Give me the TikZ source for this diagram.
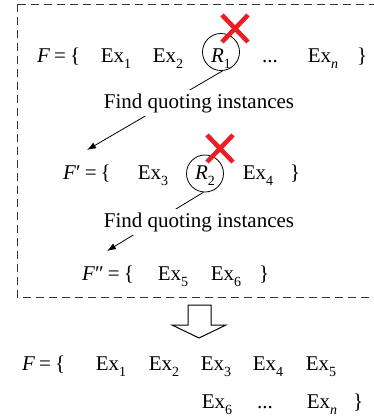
\documentclass[tikz,border=0pt]{standalone}
\usepackage{fontspec}
\setmainfont{Liberation Serif}
\usetikzlibrary{arrows.meta}
\newcommand\sbs[1]{\raisebox{-0.3em}{\fontsize{14}{14}\selectfont #1}}
\newcommand\exs[1]{Ex\sbs{#1}}
\newcommand\eqb{\hspace{4pt}=\hspace{4pt}\{}
\tikzset{
  txt/.style={inner sep=0pt, anchor=base, font=\fontsize{21}{25}\selectfont},
  txtw/.style={txt, anchor=base west},
  ring/.style={draw, circle, line width=0.8pt, minimum size=37pt, inner sep=0pt},
  cross/.style={line width=4.5pt, draw={rgb,255:red,236;green,28;blue,36}},
  link/.style={line width=0.8pt, -{Latex[length=9pt,width=6.5pt]}},
  lbl/.style={txt, anchor=base, fill=white, inner sep=3pt},
  frame/.style={line width=1pt, dash pattern=on 8pt off 5pt, draw={rgb,255:red,50;green,50;blue,50}},
  hollow/.style={draw, line width=1pt, fill=white}
}
\begin{document}
\begin{tikzpicture}[x=1pt,y=-1pt]
\useasboundingbox (0,0) rectangle (374,416);
\clip (0,0) rectangle (374,416);
% dashed frame
\draw[frame] (17,4) rectangle (385,297);
% row 1
\node[txtw] (f1) at (37,62) {\textit{F}\eqb};
\node[txt] (e11) at (116,62) {\exs{1}};
\node[txt] (e12) at (168,62) {\exs{2}};
\node[txt] (r1) at (221,62) {\textit{R}\sbs{1}};
\node[ring] (c1) at (221,52) {};
\node[txt] (d1) at (270,62) {...};
\node[txt] (e1n) at (323,62) {\exs{\textit{n}}};
\node[txtw] (b1) at (357,62) {\}};
\draw[cross] (222,15) -- (248,42) (222,42) -- (248,15);
% arrow 1
\coordinate (t1) at (87,150);
\draw[link] (c1.-85) -- (t1);
\node[lbl] (q1) at (199,108) {Find quoting instances};
% row 2
\node[txtw] (f2) at (63,179) {\textit{F}′\eqb};
\node[txt] (e23) at (153,179) {\exs{3}};
\node[txt] (r2) at (205,179) {\textit{R}\sbs{2}};
\node[ring] (c2) at (205,173.5) {};
\node[txt] (e24) at (258,179) {\exs{4}};
\node[txtw] (b2) at (290,179) {\}};
\draw[cross] (207,135) -- (233,162) (207,162) -- (233,135);
% arrow 2
\coordinate (t2) at (107,251);
\draw[link] (c2.-95) -- (t2);
\node[lbl] (q2) at (199,227) {Find quoting instances};
% row 3
\node[txtw] (f3) at (82,280) {\textit{F}″\eqb};
\node[txt] (e35) at (173,280) {\exs{5}};
\node[txt] (e36) at (226,280) {\exs{6}};
\node[txtw] (b3) at (259,280) {\}};
% hollow arrow
\draw[hollow] (188,305) -- (211,305) -- (211,325) -- (226,325) -- (199,338) -- (172,325) -- (188,325) -- cycle;
% row 4
\node[txtw] (f4) at (22,370) {\textit{F}\eqb};
\node[txt] (e41) at (111,370) {\exs{1}};
\node[txt] (e42) at (164,370) {\exs{2}};
\node[txt] (e43) at (216,370) {\exs{3}};
\node[txt] (e44) at (268,370) {\exs{4}};
\node[txt] (e45) at (321,370) {\exs{5}};
% row 5
\node[txt] (e56) at (217,408) {\exs{6}};
\node[txt] (d5) at (265,408) {...};
\node[txt] (e5n) at (322,408) {\exs{\textit{n}}};
\node[txtw] (b5) at (353,408) {\}};
\end{tikzpicture}
\end{document}
